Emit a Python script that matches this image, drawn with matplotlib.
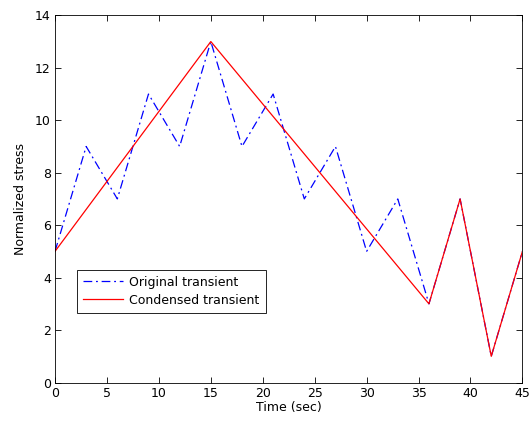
import matplotlib
matplotlib.use('Agg')
import matplotlib.pyplot as plt

# Original transient (sampled every 3 s)
t_orig = [0, 3, 6, 9, 12, 15, 18, 21, 24, 27, 30, 33, 36, 39, 42, 45]
s_orig = [5, 9, 7, 11, 9, 13, 9, 11, 7, 9, 5, 7, 3, 7, 1, 5]

# Condensed transient (turning points only)
t_cond = [0, 15, 36, 39, 42, 45]
s_cond = [5, 13, 3, 7, 1, 5]

plt.rcParams['font.family'] = ['DejaVu Sans']
plt.rcParams['font.size'] = 9

fig = plt.figure(figsize=(5.32, 4.21), dpi=100)
ax = fig.add_axes([0.1034, 0.0914, 0.8786, 0.8722])

ax.plot(t_orig, s_orig, color='blue', linestyle=(0, (7, 3, 1.5, 3)), linewidth=0.9,
        label='Original transient')
ax.plot(t_cond, s_cond, color='red', linestyle='-', linewidth=0.9,
        label='Condensed transient')

ax.set_xlim(0, 45)
ax.set_ylim(0, 14)
ax.set_xticks(range(0, 46, 5))
ax.set_yticks(range(0, 15, 2))
ax.tick_params(direction='in', top=True, right=True, length=4, width=0.6, pad=3)
for sp in ax.spines.values():
    sp.set_linewidth(0.6)

ax.set_xlabel('Time (sec)', labelpad=1)
ax.set_ylabel('Normalized stress', labelpad=6)

leg = ax.legend(loc='lower left', bbox_to_anchor=(0.047, 0.189), fancybox=False,
                edgecolor='black', framealpha=1, borderpad=0.5, handlelength=3.2,
                labelspacing=0.4, borderaxespad=0, handletextpad=0.5)
leg.get_frame().set_linewidth(0.6)

plt.savefig('out.png', dpi=100)
